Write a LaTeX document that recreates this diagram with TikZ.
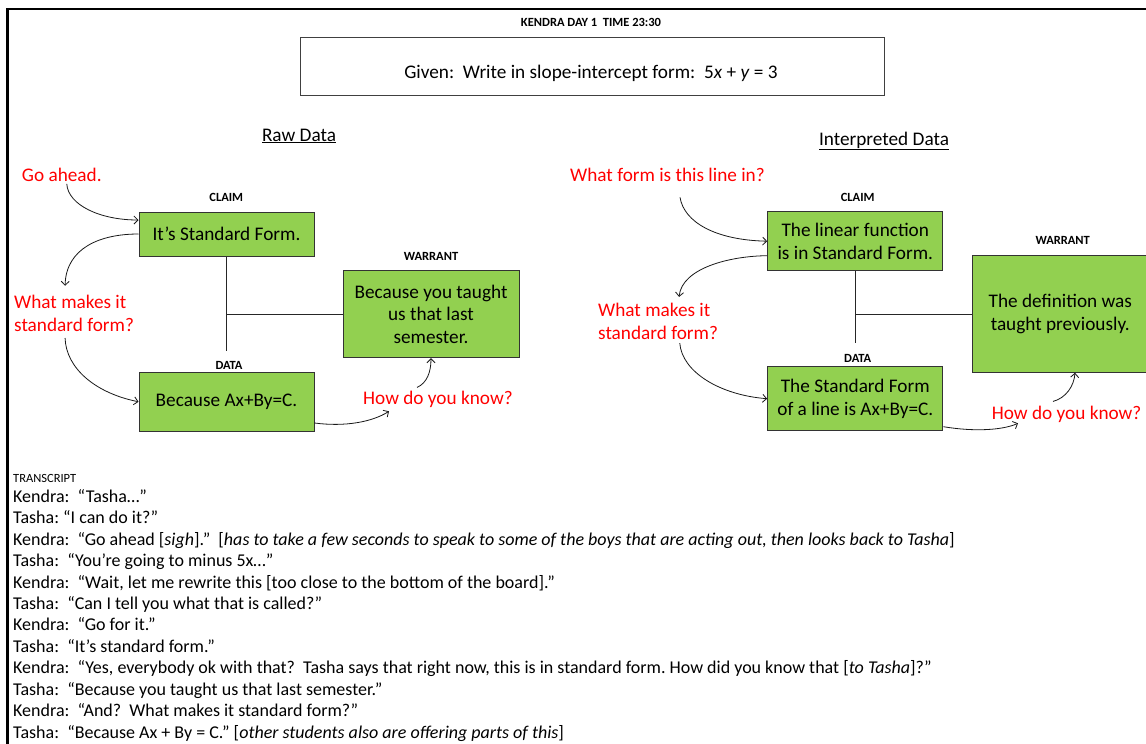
\documentclass[tikz,border=0pt]{standalone}
\usepackage{fontspec}
\setmainfont{Carlito}
\usetikzlibrary{arrows.meta}
\definecolor{boxgreen}{RGB}{146,208,80}
\definecolor{redtxt}{RGB}{255,0,0}
\frenchspacing
\begin{document}
\begin{tikzpicture}[x=1pt,y=-1pt,
  tmbox/.style={draw=black!80, line width=1pt, fill=boxgreen, inner sep=0pt, align=center, font=\fontsize{19.25}{22.5}\selectfont},
  redlbl/.style={text=redtxt, inner sep=0pt, align=left, font=\fontsize{19.25}{23.3}\selectfont},
  tag/.style={inner sep=0pt, font=\bfseries\fontsize{12.5}{14}\selectfont},
  conn/.style={draw=black!85, line width=0.9pt},
  arr/.style={draw=black!90, line width=0.8pt, -{Straight Barb[length=4pt,width=8pt]}},
  tline/.style={anchor=base west, inner sep=0pt, font=\fontsize{18}{21}\selectfont},
  heading/.style={anchor=base, inner sep=0pt, font=\fontsize{19.25}{22}\selectfont}]
\useasboundingbox (0,0) rectangle (1146,744);
\clip (0,0) rectangle (1146,744);
\fill[white] (0,0) rectangle (1146,744);
% frame
\draw[line width=2.5pt, line join=miter] (7.5,760) -- (7.5,9) -- (1160,9);
% header
\node[tag, anchor=base] (title) at (591,26.5) {KENDRA DAY 1\ \ TIME 23:30};
\node[draw=black!75, line width=1pt, minimum width=584pt, minimum height=58pt, inner sep=0pt] (given) at (592,66) {};
\node[heading] (giventext) at (591,78) {Given:\ \ Write in slope-intercept form:\ \ 5\textit{x} + \textit{y} = 3};
\node[heading] (rawhead) at (299,141) {\underline{Raw Data}};
\node[heading] (inthead) at (884,145) {\underline{Interpreted Data}};
% ---------------- left (raw data)
\node[tag] (lclaimtag) at (226.3,197) {CLAIM};
\node[tag] (lwarrtag) at (431,256) {WARRANT};
\node[tag] (ldatatag) at (229,365) {DATA};
\node[tmbox, minimum width=175pt, minimum height=44pt] (lclaim) at (226.5,234) {It’s Standard Form.};
\node[tmbox, minimum width=175pt, minimum height=58.5pt] (ldata) at (226.5,401.75) {Because Ax+By=C.};
\node[tmbox, minimum width=176pt, minimum height=87pt] (lwarr) at (431,314.2) {Because you taught\\us that last\\semester.};
\coordinate (lend) at (226.5,351);
\draw[conn] (lclaim.south) -- (lend);
\draw[conn] (lclaim.south |- lwarr.west) -- (lwarr.west);
\node[redlbl, anchor=base west] (lgo) at (21.7,181.5) {Go ahead.};
\node[redlbl, anchor=west] (lwhat) at (14,313.4) {What makes it\\standard form?};
\node[redlbl, anchor=base west] (lhow) at (363,404) {How do you know?};
\draw[arr] ([xshift=5pt,yshift=-2pt]lgo.south) .. controls (68,205) and (100,220) .. ([yshift=14pt]lclaim.west);
\draw[arr] (lclaim.west) .. controls (100,234) and (66,248) .. ([xshift=-9pt,yshift=9pt]lwhat.north);
\draw[arr] ([xshift=-9pt,yshift=-6pt]lwhat.south) .. controls (66,368) and (95,393) .. (ldata.west);
\draw[arr] ([yshift=-21.25pt]ldata.east) .. controls (345,427) and (372,422) .. ([xshift=26pt,yshift=-4pt]lhow.south west);
\draw[arr] ([xshift=54pt,yshift=3pt]lhow.north west) .. controls (427,383) and (431,372) .. (lwarr.south);
% ---------------- right (interpreted data)
\node[tag] (rclaimtag) at (857.7,197) {CLAIM};
\node[tag] (rwarrtag) at (1062.7,240) {WARRANT};
\node[tag] (rdatatag) at (857.7,358) {DATA};
\node[tmbox, minimum width=175.3pt, minimum height=59pt] (rclaim) at (855.3,241.2) {The linear function\\is in Standard Form.};
\node[tmbox, minimum width=175.3pt, minimum height=64pt] (rdata) at (855.3,398.7) {The Standard Form\\of a line is Ax+By=C.};
\node[tmbox, minimum width=176pt, minimum height=116.6pt] (rwarr) at (1060.3,314) {The definition was\\taught previously.};
\coordinate (rend) at (855.3,343);
\draw[conn] (rclaim.south) -- (rend);
\draw[conn] (rclaim.south |- rwarr.west) -- (rwarr.west);
\node[redlbl, anchor=base west] (rform) at (570,181) {What form is this line in?};
\node[redlbl, anchor=west] (rwhat) at (598,321.5) {What makes it\\standard form?};
\node[redlbl, anchor=base west] (rhow) at (991.7,419) {How do you know?};
\draw[arr] ([xshift=12.5pt,yshift=-16pt]rform.south) .. controls (684,222) and (715,240) .. (rclaim.west);
\draw[arr] ([yshift=-14.5pt]rclaim.west) .. controls (730,256) and (682,268) .. ([xshift=21pt,yshift=6pt]rwhat.north);
\draw[arr] ([xshift=21.7pt,yshift=-3pt]rwhat.south) .. controls (682,372) and (720,395) .. (rdata.west);
\draw[arr] ([yshift=-28pt]rdata.east) .. controls (975,432) and (1003,430) .. ([xshift=26.3pt,yshift=-1pt]rhow.south west);
\draw[arr] ([xshift=61.3pt,yshift=4pt]rhow.north west) .. controls (1066,398) and (1074,386) .. ([xshift=14.7pt]rwarr.south);
% ---------------- transcript
\node[anchor=base west, inner sep=0pt, font=\fontsize{12.5}{14}\selectfont] (trhead) at (13,482.8) {TRANSCRIPT};
\node[tline] (t0) at (13,502.2) {Kendra:\ \ “Tasha…”};
\node[tline] (t1) at (13,523.65) {Tasha: “I can do it?”};
\node[tline] (t2) at (13,545.1) {Kendra:\ \ “Go ahead [\textit{sigh}].”\ \ [\textit{has to take a few seconds to speak to some of the boys that are acting out, then looks back to Tasha}]};
\node[tline] (t3) at (13,566.55) {Tasha:\ \ “You’re going to minus 5x…”};
\node[tline] (t4) at (13,588.0) {Kendra:\ \ “Wait, let me rewrite this [too close to the bottom of the board].”};
\node[tline] (t5) at (13,609.45) {Tasha:\ \ “Can I tell you what that is called?”};
\node[tline] (t6) at (13,630.9) {Kendra:\ \ “Go for it.”};
\node[tline] (t7) at (13,652.35) {Tasha:\ \ “It’s standard form.”};
\node[tline] (t8) at (13,673.8) {Kendra:\ \ “Yes, everybody ok with that?\ \ Tasha says that right now, this is in standard form. How did you know that [\textit{to Tasha}]?”};
\node[tline] (t9) at (13,695.25) {Tasha:\ \ “Because you taught us that last semester.”};
\node[tline] (t10) at (13,716.7) {Kendra:\ \ “And?\ \ What makes it standard form?”};
\node[tline] (t11) at (13,738.15) {Tasha:\ \ “Because Ax + By = C.” [\textit{other students also are offering parts of this}]};
\end{tikzpicture}
\end{document}
